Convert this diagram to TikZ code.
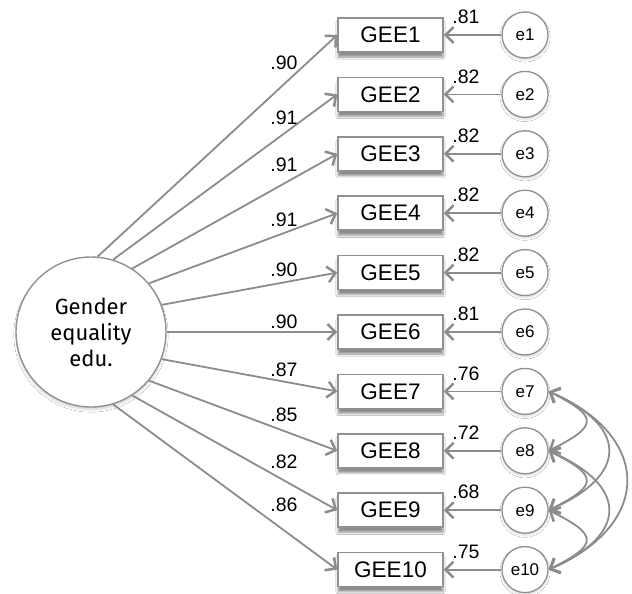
\documentclass[tikz,border=0pt]{standalone}
\usepackage{fontspec}
\setmainfont{Liberation Sans}
\newfontfamily\firafont{Fira Sans}
\usetikzlibrary{arrows.meta,shadows.blur}
\definecolor{lc}{RGB}{140,140,140}
\definecolor{bc}{RGB}{145,145,145}
\begin{document}
\begin{tikzpicture}[x=1pt,y=-1pt,
  obs/.style={draw=bc, line width=1.6pt, fill=white, minimum width=105pt, minimum height=34pt, inner sep=0pt,
    font=\fontsize{22.5}{26}\selectfont,
    blur shadow={shadow xshift=0pt, shadow yshift=-5pt, shadow blur steps=8, shadow opacity=45}},
  err/.style={circle, draw=bc, line width=1.3pt, fill=white, minimum size=46pt, inner sep=0pt,
    font=\fontsize{17}{20}\selectfont,
    blur shadow={shadow xshift=0pt, shadow yshift=-2pt, shadow blur steps=5, shadow opacity=15}},
  lat/.style={circle, draw=bc, line width=1.4pt, fill=white, minimum size=150pt, inner sep=0pt, align=center,
    font=\firafont\fontsize{22}{26}\selectfont,
    blur shadow={shadow xshift=0pt, shadow yshift=-3pt, shadow blur steps=6, shadow opacity=15}},
  tip/.tip={Straight Barb[length=8pt,width=16pt,line width=2.5pt]},
  arr/.style={draw=lc, line width=1.8pt, -tip},
  cov/.style={draw=lc, line width=1.8pt, tip-tip},
  lbl/.style={font=\fontsize{19.5}{22}\selectfont, inner sep=0pt}
]
\useasboundingbox[fill=white] (0,0) rectangle (632,594);

\node[lat] (L) at (91,332) {Gender\\equality\\edu.};

\foreach \i/\y/\el/\ll/\ly/\a in {1/35/.81/.90/63/85, 2/94.4/.82/.91/118/73, 3/153.8/.82/.91/165/57,
  4/213.2/.82/.91/220/40, 5/272.6/.82/.90/270/21, 6/332/.81/.90/322/0, 7/391.4/.76/.87/370/-21,
  8/450.8/.72/.85/415/-40, 9/510.2/.68/.82/462/-57, 10/569.6/.75/.86/505/-73}{
  \node[obs] (g\i) at (390.5,\y) {GEE\i};
  \node[err] (e\i) at (525,\y) {e\i};
  \draw[arr] (L.\a) -- (g\i.west);
  \draw[arr] (e\i) -- (g\i);
  \node[lbl] (el\i) at (466,\y-18) {\el};
  \node[lbl] (ll\i) at (284,\ly) {\ll};
}

\draw[cov] (e7.east) .. controls +(50,25) and +(50,-25) .. (e8.east);
\draw[cov] (e7.east) .. controls +(80,35) and +(80,-35) .. (e9.east);
\draw[cov] (e7.east) .. controls +(104,45) and +(104,-45) .. (e10.east);
\draw[cov] (e8.east) .. controls +(50,25) and +(50,-25) .. (e9.east);
\draw[cov] (e8.east) .. controls +(80,35) and +(80,-35) .. (e10.east);
\draw[cov] (e9.east) .. controls +(50,25) and +(50,-25) .. (e10.east);
\end{tikzpicture}
\end{document}
